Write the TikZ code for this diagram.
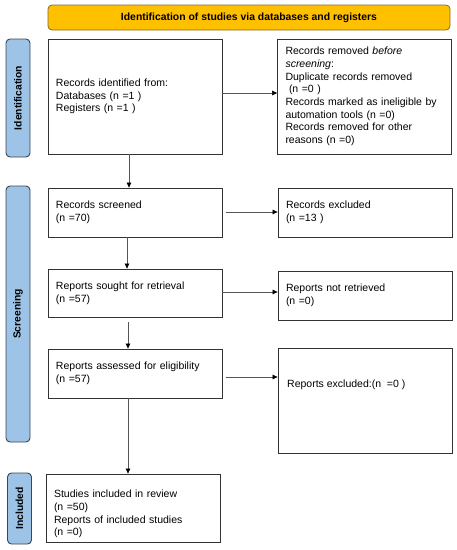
\documentclass[tikz,border=0pt]{standalone}
\usepackage{fontspec}
\setmainfont{Liberation Sans}
\usetikzlibrary{arrows.meta}
\definecolor{titlefill}{HTML}{FFC000}
\definecolor{titledraw}{HTML}{7F6A2E}
\definecolor{sidefill}{HTML}{9DC3E6}
\definecolor{sidedraw}{HTML}{3A4654}
\definecolor{boxdraw}{HTML}{333333}
\definecolor{arrowcol}{HTML}{555555}
\begin{document}
\begin{tikzpicture}[x=1pt,y=-1pt,
  every node/.style={font=\fontsize{10.5}{12.7}\selectfont},
  titlebox/.style={draw=titledraw,fill=titlefill,rounded corners=4pt,line width=0.8pt,
    minimum width=402pt,minimum height=25pt,inner sep=0pt,
    font=\bfseries\fontsize{10.4}{12}\selectfont},
  sidebox/.style={draw=sidedraw,fill=sidefill,rounded corners=4pt,line width=0.9pt,
    minimum width=24pt,inner sep=0pt},
  sidetext/.style={rotate=90,font=\bfseries\fontsize{10.3}{12}\selectfont},
  flowbox/.style={draw=boxdraw,line width=0.8pt,minimum width=174pt,
    text width=158pt,inner xsep=8pt,align=left},
  flowarrow/.style={draw=arrowcol,line width=0.6pt,
    -{Triangle[length=5pt,width=4.5pt,color=black]}}
]
\useasboundingbox (0,0) rectangle (457,550);
% title
\node[titlebox] (title) at (249,17.5) {Identification of studies via databases and registers};
% side bars
\node[sidebox,minimum height=118pt] (sideid) at (18,98) {};
\node[sidetext] (sideidt) at (sideid.center) {Identification};
\node[sidebox,minimum height=256pt] (sidesc) at (18,314) {};
\node[sidetext] (sidesct) at (sidesc.center) {Screening};
\node[sidebox,minimum height=71pt] (sidein) at (19.5,508.5) {};
\node[sidetext] (sideint) at (sidein.center) {Included};
% identification
\node[flowbox,minimum height=115pt] (ident) at (135,96.5) {Records identified from:\\Databases (n =1 )\\Registers (n =1 )};
\node[flowbox,minimum height=115pt] (removed) at (364.5,96.5) {Records removed \textit{before}\\\textit{screening}:\\Duplicate records removed\\\ (n =0 )\\Records marked as ineligible by\\automation tools (n =0)\\Records removed for other\\reasons (n =0)};
% screening
\node[flowbox,minimum height=49pt] (screened) at (135,212.5) {Records screened\\(n =70)};
\node[flowbox,minimum height=49pt] (excluded) at (365,212.5) {Records excluded\\(n =13 )};
\node[flowbox,minimum height=48pt] (sought) at (135,293) {Reports sought for retrieval\\(n =57)};
\node[flowbox,minimum height=49pt] (notret) at (365,295.5) {Reports not retrieved\\(n =0)};
\node[flowbox,minimum height=49pt] (assessed) at (135,373.5) {Reports assessed for eligibility\\(n =57)};
\node[flowbox,minimum height=105pt] (repexcl) at (365,400.5) {};
\node[anchor=west,inner sep=0pt] (repexclt) at (287,385) {Reports excluded:(n \ =0 )};
% included
\node[flowbox,minimum height=68pt] (studies) at (133,508) {\rule{0pt}{20pt}Studies included in review\\(n =50)\\Reports of included studies\\(n =0)};
% arrows
\coordinate (a1) at (222,93);
\draw[flowarrow] (a1) -- (a1 -| removed.west);
\coordinate (d1) at (129,154);
\draw[flowarrow] (d1) -- (d1 |- screened.north);
\coordinate (a2) at (226,212);
\draw[flowarrow] (a2) -- (a2 -| excluded.west);
\coordinate (d2) at (127,237);
\draw[flowarrow] (d2) -- (d2 |- sought.north);
\coordinate (a3) at (222,292);
\draw[flowarrow] (a3) -- (a3 -| notret.west);
\coordinate (d3) at (128,322);
\draw[flowarrow] (d3) -- (d3 |- assessed.north);
\coordinate (a4) at (226,377);
\draw[flowarrow] (a4) -- (a4 -| repexcl.west);
\coordinate (d4) at (128,398);
\draw[flowarrow] (d4) -- (d4 |- studies.north);
\end{tikzpicture}
\end{document}
